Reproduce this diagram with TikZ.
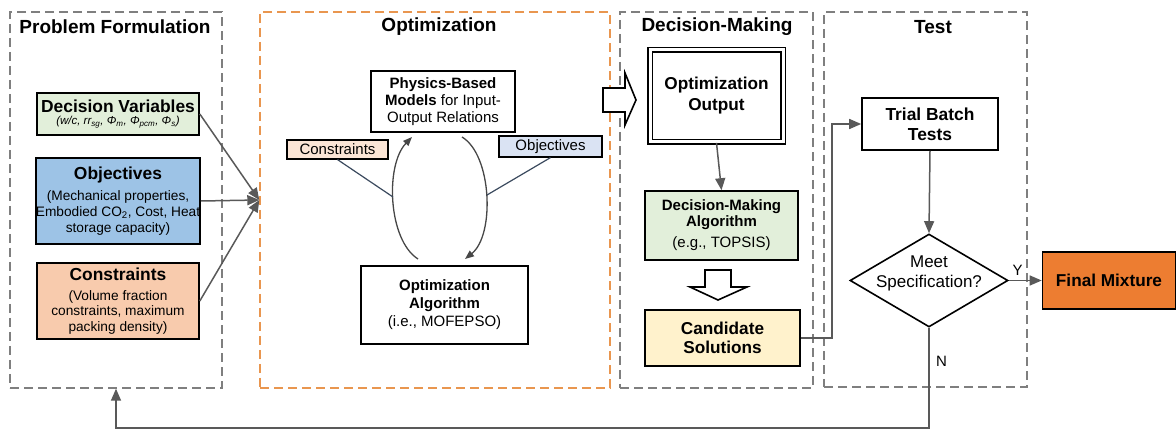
\documentclass[tikz,border=0pt]{standalone}
\usepackage{fontspec}
\setmainfont{Liberation Sans}
\usepackage{tikz}
\usetikzlibrary{arrows.meta,shapes.geometric}

\definecolor{panelgray}{HTML}{7F7F7F}
\definecolor{optorange}{HTML}{E9964F}
\definecolor{linegray}{HTML}{595959}
\definecolor{slate}{HTML}{3B4A5E}
\definecolor{dvgreen}{HTML}{E2EFDA}
\definecolor{objblue}{HTML}{9DC3E6}
\definecolor{conspeach}{HTML}{F8CBAD}
\definecolor{conslight}{HTML}{FBE5D6}
\definecolor{objlight}{HTML}{DAE3F3}
\definecolor{candyellow}{HTML}{FFF2CC}
\definecolor{finalorange}{HTML}{ED7D31}

\newcommand{\hd}[1]{{\fontsize{17.4}{20}\selectfont\upshape\bfseries #1}}

\begin{document}
\begin{tikzpicture}[x=1pt,y=-1pt,
  panel/.style={draw=panelgray, line width=1.4pt, dash pattern=on 9pt off 5pt, inner sep=0pt},
  paneltitle/.style={font=\fontsize{19}{22}\selectfont\bfseries},
  box/.style={draw=black, line width=1.6pt, align=center, inner sep=0pt},
  tag/.style={draw=black, line width=1.2pt, inner sep=0pt, font=\fontsize{15}{17}\selectfont},
  arr/.style={draw=linegray, line width=1.5pt, -{Triangle[length=12pt,width=10pt]}},
  loop/.style={draw=linegray!80!black, line width=1.3pt, -{Triangle[length=9pt,width=7pt]}},
  hollow/.style={draw=black, line width=1.6pt, fill=white, line join=miter}]
  \useasboundingbox (0,0) rectangle (1176,430);

  % panels
  \node[panel, minimum width=212pt, minimum height=376pt] (pf) at (116,200) {};
  \node[panel, draw=optorange, minimum width=350pt, minimum height=376pt] (opt) at (435,200) {};
  \node[panel, minimum width=193pt, minimum height=376pt] (dm) at (716.5,200) {};
  \node[panel, minimum width=203pt, minimum height=375pt] (test) at (925.5,199.5) {};
  \node[paneltitle] (pftitle) at (115,27) {Problem Formulation};
  \node[paneltitle] (opttitle) at (439,27) {Optimization};
  \node[paneltitle] (dmtitle) at (717,27) {Decision-Making};
  \node[paneltitle] (testtitle) at (933,27) {Test};

  % problem formulation
  \node[box, fill=dvgreen, minimum width=162pt, minimum height=42pt,
    font=\fontsize{11.5}{13}\selectfont] (dv) at (118,114)
    {\hd{Decision Variables}\\[-1pt]\textit{(w/c, rr\textsubscript{sg}, Φ\textsubscript{m}, Φ\textsubscript{pcm}, Φ\textsubscript{s})}};
  \node[box, fill=objblue, minimum width=162pt, minimum height=86pt,
    font=\fontsize{13.7}{15.8}\selectfont] (obj) at (118,201)
    {\hd{Objectives}\\[5pt](Mechanical properties,\\Embodied CO\textsubscript{2}, Cost, Heat\\storage capacity)};
  \node[box, fill=conspeach, minimum width=162pt, minimum height=76pt,
    font=\fontsize{13.7}{15.2}\selectfont] (cons) at (118,301)
    {\hd{Constraints}\\[5pt](Volume fraction\\constraints, maximum\\packing density)};

  \draw[arr] (dv.east) -- (opt.west);
  \draw[arr] (obj.east) -- (opt.west);
  \draw[arr] (cons.east) -- (opt.west);

  % optimization
  \node[box, minimum width=144pt, minimum height=61pt,
    font=\fontsize{15}{17}\selectfont] (phys) at (443,101.5)
    {\textbf{Physics-Based}\\\textbf{Models} for Input-\\Output Relations};
  \node[box, minimum width=167pt, minimum height=78pt,
    font=\fontsize{15}{18}\selectfont] (algo) at (444.5,305)
    {\textbf{Optimization}\\\textbf{Algorithm}\\(i.e., MOFEPSO)};
  \node[tag, fill=conslight, minimum width=101pt, minimum height=19pt] (constag) at (337.5,149.5) {Constraints};
  \node[tag, fill=objlight, minimum width=103pt, minimum height=21pt] (objtag) at (550.5,146.5) {Objectives};

  \coordinate (lbot) at (418,259);
  \coordinate (ltop) at (412,137);
  \coordinate (rtop) at (462,137);
  \coordinate (rbot) at (465,259);
  \coordinate (lmid) at (393,197);
  \coordinate (rmid) at (487,195);
  \draw[loop] (lbot) .. controls (388,240) and (385,165) .. (ltop);
  \draw[loop] (rtop) .. controls (492,155) and (495,235) .. (rbot);
  \draw[slate, line width=1.2pt] (constag.south) -- (lmid);
  \draw[slate, line width=1.2pt] (objtag.south) -- (rmid);

  \draw[hollow] (603,88) -- (625,88) -- (625,73) -- (636,100) -- (625,125)
    -- (625,112) -- (603,112) -- cycle;

  % decision-making
  \node[box, double, double distance=3pt, line width=1.8pt, minimum width=133pt, minimum height=92pt,
    font=\fontsize{17.2}{21}\selectfont\bfseries] (optout) at (716.5,96) {Optimization\\Output};
  \node[box, fill=dvgreen, minimum width=153pt, minimum height=69pt,
    font=\fontsize{15}{15.5}\selectfont] (dma) at (721.5,225.5)
    {\textbf{Decision-Making}\\\textbf{Algorithm}\\[6pt](e.g., TOPSIS)};
  \node[box, fill=candyellow, minimum width=155pt, minimum height=56pt,
    font=\fontsize{17.2}{19}\selectfont\bfseries] (cand) at (722.5,338) {Candidate\\Solutions};

  \draw[arr] (optout.south) -- (dma.north);
  \draw[hollow] (705,270) -- (731,270) -- (731,287) -- (747,287) -- (718,300)
    -- (690,287) -- (705,287) -- cycle;

  % test
  \node[box, minimum width=136pt, minimum height=52pt,
    font=\fontsize{17.4}{20}\selectfont\bfseries] (trial) at (930,124) {Trial Batch\\Tests};
  \node[diamond, draw=black, line width=1.6pt, inner sep=0pt, aspect=1.7,
    minimum width=158pt, minimum height=93pt,
    label={[font=\fontsize{17}{20}\selectfont, align=center, yshift=7pt]center:Meet\\Specification?}] (spec) at (929,280.5) {};
  \node[box, fill=finalorange, minimum width=133pt, minimum height=57pt,
    font=\fontsize{17.2}{20}\selectfont\bfseries] (final) at (1109,280.5) {Final Mixture};

  \coordinate (bend) at (832,338);
  \coordinate (low) at (929,428);
  \draw[arr] (cand.east) -- (bend) |- (trial.west);
  \draw[arr] (trial.south) -- (spec.north);
  \draw[arr] (spec.east) -- node[pos=0.27, above=1pt, font=\fontsize{15}{17}\selectfont] {Y} (final.west);
  \draw[arr] (spec.south) -- node[pos=0.33, right=3pt, font=\fontsize{15}{17}\selectfont] {N} (low) -| (pf.south);
\end{tikzpicture}
\end{document}
